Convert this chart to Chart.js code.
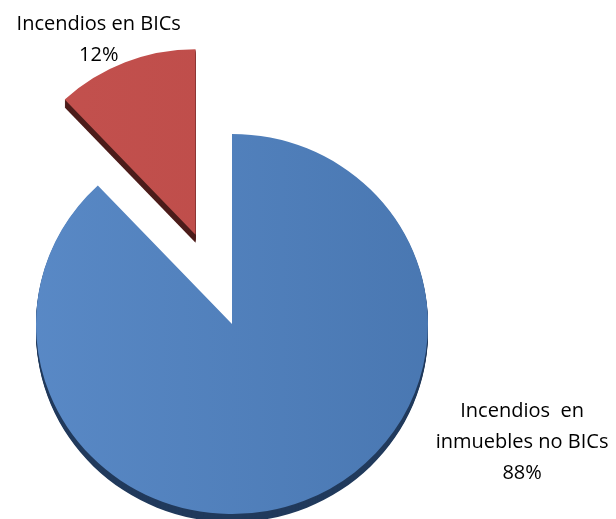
<!DOCTYPE html>
<html>
<head>
<meta charset="utf-8">
<script src="https://cdn.jsdelivr.net/npm/chart.js@4/dist/chart.umd.min.js"></script>
<style>
  html, body { margin: 0; padding: 0; background: #ffffff; }
  #wrap { width: 616px; height: 519px; position: relative; }
</style>
</head>
<body>
<div id="wrap"><canvas id="chart"></canvas></div>
<script>
// Category names (one entry per line of the label)
const categories = [
  ["Incendios  en", "inmuebles no BICs"],
  ["Incendios en BICs"]
];
// Share of fires, in percent
const shares = [88, 12];

// Slice styling
const topColors = [["#5A8AC7", "#4876B0"], ["#C4524F", "#BB4A47"]];
const sideColors = ["#213A5C", "#4C1C1A"];
const explode = [0, 99];          // how far each slice is pulled out, px
const depthScale = [1, 0.975];    // far slices look a touch smaller
const TILT = 0.97;                // vertical squash of the tilted pie
const DEPTH = 8;                  // thickness of the pie, px

// Label placement, in pie radii from the pie centre (first baseline)
const labelAnchors = [[1.48, 0.475], [-0.68, -1.5]];
const LABEL_FONT = '20px "Open Sans"';
const LINE_HEIGHT = 31;

const total = shares.reduce((s, v) => s + v, 0);
const percentText = shares.map(v => Math.round(v / total * 100) + '%');

function placeSlice(ctx, a, i) {
  const mid = (a.startAngle + a.endAngle) / 2;
  ctx.translate(a.x, a.y);
  ctx.scale(1, TILT);
  ctx.translate(Math.cos(mid) * explode[i], Math.sin(mid) * explode[i]);
  ctx.scale(depthScale[i], depthScale[i]);
  ctx.translate(-a.x, -a.y);
}

const pie3d = {
  id: 'pie3d',
  beforeDatasetsDraw(chart) {
    const ctx = chart.ctx;
    const arcs = chart.getDatasetMeta(0).data;
    // side walls: stacked copies of each slice below its top face
    arcs.forEach((a, i) => {
      ctx.save();
      ctx.fillStyle = sideColors[i];
      for (let k = DEPTH; k >= 1; k--) {
        ctx.save();
        ctx.translate(0, k);
        placeSlice(ctx, a, i);
        ctx.beginPath();
        ctx.moveTo(a.x, a.y);
        ctx.arc(a.x, a.y, a.outerRadius, a.startAngle, a.endAngle);
        ctx.closePath();
        ctx.fill();
        ctx.restore();
      }
      ctx.restore();
    });
    // top faces
    arcs.forEach((a, i) => {
      ctx.save();
      placeSlice(ctx, a, i);
      a.draw(ctx);
      ctx.restore();
    });
    return false;
  },
  afterDraw(chart) {
    const ctx = chart.ctx;
    const arcs = chart.getDatasetMeta(0).data;
    if (!arcs.length) return;
    const cx = arcs[0].x, cy = arcs[0].y, r = arcs[0].outerRadius;
    ctx.save();
    ctx.font = LABEL_FONT;
    ctx.fillStyle = '#000000';
    ctx.textAlign = 'center';
    ctx.textBaseline = 'alphabetic';
    categories.forEach((lines, i) => {
      const x = cx + labelAnchors[i][0] * r;
      let y = cy + labelAnchors[i][1] * r;
      lines.concat([percentText[i]]).forEach(t => {
        ctx.fillText(t, x, y);
        y += LINE_HEIGHT;
      });
    });
    ctx.restore();
  }
};

function sliceFill(c) {
  const area = c.chart.chartArea;
  const cols = topColors[c.dataIndex];
  if (!area) return cols[0];
  const g = c.chart.ctx.createLinearGradient(area.left, 0, area.right, 0);
  g.addColorStop(0, cols[0]);
  g.addColorStop(1, cols[1]);
  return g;
}

new Chart(document.getElementById('chart'), {
  type: 'pie',
  data: {
    labels: categories.map(l => l.join(' ')),
    datasets: [{
      data: shares,
      backgroundColor: sliceFill,
      borderWidth: 0
    }]
  },
  options: {
    responsive: true,
    maintainAspectRatio: false,
    animation: false,
    radius: 196,
    layout: { padding: { left: 0, right: 152, top: 129, bottom: 0 } },
    plugins: {
      legend: { display: false },
      tooltip: { enabled: false }
    }
  },
  plugins: [pie3d]
});
</script>
</body>
</html>
